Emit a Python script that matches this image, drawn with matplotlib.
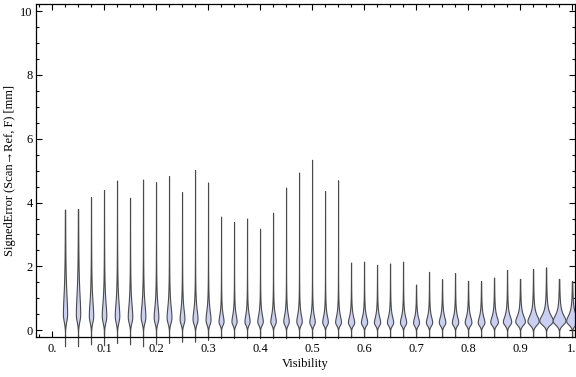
import numpy as np
import matplotlib
matplotlib.use("Agg")
import matplotlib.pyplot as plt
from matplotlib.ticker import MultipleLocator

plt.rcParams['font.family'] = ['Liberation Serif', 'DejaVu Serif']

# visibility bins (one violin per bin)
visibility = [0.025, 0.05, 0.075, 0.1, 0.125, 0.15, 0.175, 0.2, 0.225, 0.25,
              0.275, 0.3, 0.325, 0.35, 0.375, 0.4, 0.425, 0.45, 0.475, 0.5,
              0.525, 0.55, 0.575, 0.6, 0.625, 0.65, 0.675, 0.7, 0.725, 0.75,
              0.775, 0.8, 0.825, 0.85, 0.875, 0.9, 0.925, 0.95, 0.975, 1.0]

# largest signed error per bin [mm]
err_max = [3.78, 3.80, 4.17, 4.39, 4.69, 4.15, 4.72, 4.64, 4.83, 4.33,
           5.02, 4.63, 3.56, 3.39, 3.50, 3.18, 3.68, 4.47, 4.94, 5.34,
           4.36, 4.70, 2.12, 2.15, 2.05, 2.09, 2.15, 1.43, 1.83, 1.60,
           1.79, 1.55, 1.54, 1.65, 1.89, 1.61, 1.92, 1.97, 1.61, 1.54]

# smallest signed error per bin [mm]
err_min = [-0.50, -0.50, -0.44, -0.47, -0.40, -0.44, -0.50, -0.44, -0.40, -0.36,
           -0.36, -0.30, -0.25, -0.25, -0.25, -0.25, -0.25, -0.25, -0.25, -0.25,
           -0.25, -0.25, -0.22, -0.22, -0.22, -0.22, -0.22, -0.22, -0.22, -0.22,
           -0.22, -0.22, -0.22, -0.22, -0.22, -0.22, -0.22, -0.22, -0.22, -0.22]

# most frequent error per bin [mm]
err_mode = [0.50, 0.50, 0.45, 0.45, 0.45, 0.42, 0.42, 0.40, 0.40, 0.35,
            0.35, 0.33, 0.28, 0.28, 0.28, 0.28, 0.28, 0.28, 0.28, 0.26,
            0.26, 0.26, 0.25, 0.25, 0.25, 0.25, 0.25, 0.24, 0.25, 0.25,
            0.25, 0.25, 0.25, 0.26, 0.27, 0.28, 0.29, 0.30, 0.30, 0.30]

# spread below / above the mode [mm]
spread_lo = [0.22, 0.22, 0.20, 0.20, 0.20, 0.18, 0.18, 0.17, 0.17, 0.15,
             0.15, 0.14, 0.11, 0.11, 0.11, 0.11, 0.11, 0.11, 0.11, 0.10,
             0.10, 0.10, 0.10, 0.10, 0.10, 0.10, 0.10, 0.10, 0.10, 0.10,
             0.10, 0.10, 0.10, 0.10, 0.11, 0.11, 0.12, 0.12, 0.12, 0.12]
spread_hi = [0.90, 0.90, 0.65, 0.60, 0.60, 0.55, 0.55, 0.50, 0.50, 0.42,
             0.42, 0.40, 0.30, 0.30, 0.30, 0.30, 0.30, 0.30, 0.30, 0.28,
             0.28, 0.28, 0.26, 0.26, 0.26, 0.26, 0.26, 0.24, 0.25, 0.25,
             0.25, 0.25, 0.25, 0.25, 0.25, 0.25, 0.25, 0.25, 0.25, 0.25]

# relative peak density per bin
peak_density = [0.27, 0.28, 0.28, 0.29, 0.29, 0.29, 0.30, 0.30, 0.31, 0.31,
                0.32, 0.32, 0.32, 0.33, 0.33, 0.35, 0.35, 0.35, 0.35, 0.35,
                0.36, 0.37, 0.40, 0.40, 0.40, 0.40, 0.40, 0.38, 0.40, 0.42,
                0.41, 0.43, 0.43, 0.49, 0.53, 0.62, 0.72, 0.87, 0.82, 0.76]

WMAX = 0.015  # half width of a violin at density 1 (x units)
FILL = '#c9d0f4'
EDGE = '#4a4a4a'

fig = plt.figure(figsize=(5.76, 3.77), dpi=100)
ax = fig.add_axes([0.0625, 0.1053, 0.9350, 0.8833])

for x, lo, hi, m, sl, su, pk in zip(visibility, err_min, err_max, err_mode,
                                    spread_lo, spread_hi, peak_density):
    y = np.linspace(lo, hi, 500)
    prof = np.where(y <= m,
                    np.exp(-0.5 * ((y - m) / sl) ** 2),
                    1.0 / (1.0 + ((y - m) / su) ** 2))
    w = prof * pk * WMAX
    ax.fill_betweenx(y, x - w, x + w, facecolor=FILL, edgecolor=EDGE,
                     linewidth=0.8, clip_on=False, zorder=2)

ax.set_xlim(-0.0308, 1.0048)
ax.set_ylim(-0.22, 10.21)

ax.xaxis.set_minor_locator(MultipleLocator(0.025))
ax.yaxis.set_minor_locator(MultipleLocator(0.5))
xt = np.round(np.arange(0, 1.01, 0.1), 1)
ax.set_xticks(xt)
ax.set_xticklabels(['0.' if v == 0 else ('1.' if v == 1 else f'{v:.1f}') for v in xt])
ax.set_yticks([0, 2, 4, 6, 8, 10])
ax.set_yticklabels(['0', '2', '4', '6', '8', '10'])

ax.tick_params(which='both', direction='in', top=True, right=True,
               labelsize=9, width=0.8, colors='black')
ax.tick_params(which='major', length=4)
ax.tick_params(which='minor', length=2.5)
ax.tick_params(axis='x', pad=4)
ax.tick_params(axis='y', pad=2.5)

for s in ax.spines.values():
    s.set_linewidth(0.9)
    s.set_zorder(3)

ax.set_xlabel('Visibility', fontsize=9, labelpad=2)
ax.set_ylabel('SignedError (Scan→Ref, F) [mm]', fontsize=9, labelpad=3)

fig.savefig('out.png', dpi=100)
